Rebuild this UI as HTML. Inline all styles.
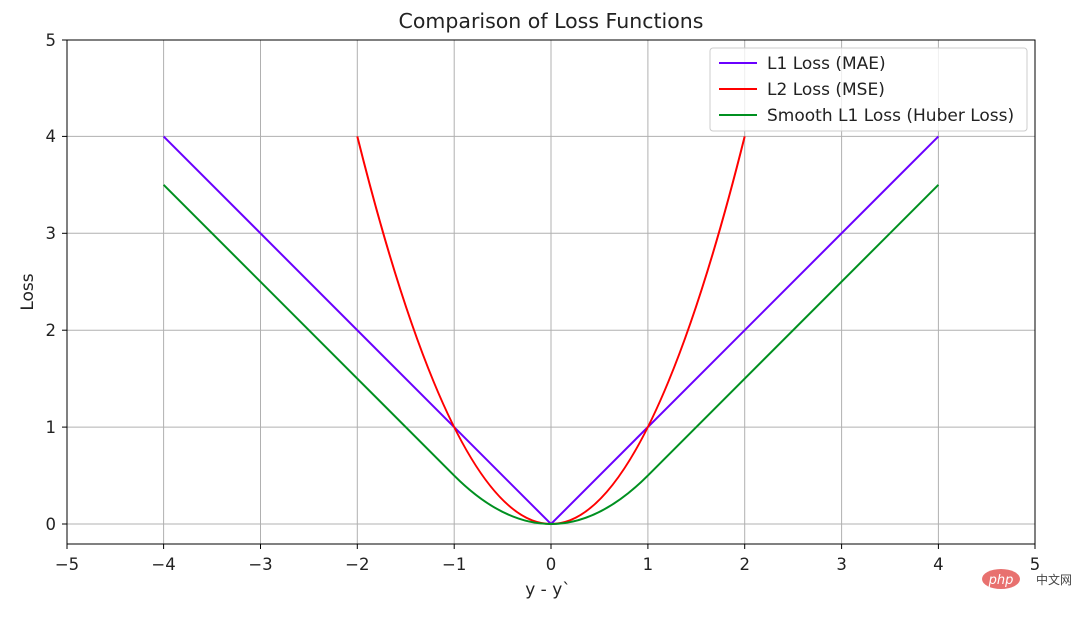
<!DOCTYPE html>
<html><head><meta charset="utf-8"><style>body{margin:0;background:#fff}</style></head><body>
<svg width="1088" height="612" xmlns="http://www.w3.org/2000/svg" font-family="DejaVu Sans, Liberation Sans, sans-serif">
<rect width="1088" height="612" fill="#fff"/>
<g stroke="#b0b0b0" stroke-width="1">
<line x1="163.6" y1="40" x2="163.6" y2="544"/><line x1="260.5" y1="40" x2="260.5" y2="544"/><line x1="357.3" y1="40" x2="357.3" y2="544"/><line x1="454.2" y1="40" x2="454.2" y2="544"/><line x1="551" y1="40" x2="551" y2="544"/><line x1="647.9" y1="40" x2="647.9" y2="544"/><line x1="744.7" y1="40" x2="744.7" y2="544"/><line x1="841.6" y1="40" x2="841.6" y2="544"/><line x1="938.4" y1="40" x2="938.4" y2="544"/>
<line x1="67" y1="524" x2="1035" y2="524"/><line x1="67" y1="427.1" x2="1035" y2="427.1"/><line x1="67" y1="330.2" x2="1035" y2="330.2"/><line x1="67" y1="233.3" x2="1035" y2="233.3"/><line x1="67" y1="136.4" x2="1035" y2="136.4"/>
</g>
<g fill="none" stroke-width="2">
<polyline points="163.6,136.4 551,524 938.4,136.4" stroke="#6a00ff"/>
<path d="M357.3,136.4 Q551,911.6 744.7,136.4" stroke="#ff0000"/>
<path d="M163.6,184.8 L454.15,475.55 Q551,572.45 647.85,475.55 L938.4,184.8" stroke="#009020"/>
</g>
<rect x="67" y="40" width="968" height="504" fill="none" stroke="#000" stroke-width="1"/>
<g stroke="#000"><line x1="67" y1="544" x2="67" y2="549"/><line x1="163.6" y1="544" x2="163.6" y2="549"/><line x1="260.5" y1="544" x2="260.5" y2="549"/><line x1="357.3" y1="544" x2="357.3" y2="549"/><line x1="454.2" y1="544" x2="454.2" y2="549"/><line x1="551" y1="544" x2="551" y2="549"/><line x1="647.9" y1="544" x2="647.9" y2="549"/><line x1="744.7" y1="544" x2="744.7" y2="549"/><line x1="841.6" y1="544" x2="841.6" y2="549"/><line x1="938.4" y1="544" x2="938.4" y2="549"/><line x1="1035" y1="544" x2="1035" y2="549"/>
<line x1="62" y1="524" x2="67" y2="524"/><line x1="62" y1="427.1" x2="67" y2="427.1"/><line x1="62" y1="330.2" x2="67" y2="330.2"/><line x1="62" y1="233.3" x2="67" y2="233.3"/><line x1="62" y1="136.4" x2="67" y2="136.4"/><line x1="62" y1="40" x2="67" y2="40"/></g>
<g font-size="16.5" fill="#222" text-anchor="middle">
<text x="67" y="570">−5</text><text x="163.6" y="570">−4</text><text x="260.5" y="570">−3</text><text x="357.3" y="570">−2</text><text x="454.2" y="570">−1</text><text x="551" y="570">0</text><text x="647.9" y="570">1</text><text x="744.7" y="570">2</text><text x="841.6" y="570">3</text><text x="938.4" y="570">4</text><text x="1035" y="570">5</text>
</g>
<g font-size="16.5" fill="#222" text-anchor="end">
<text x="56" y="530">0</text><text x="56" y="433">1</text><text x="56" y="336">2</text><text x="56" y="239">3</text><text x="56" y="142">4</text><text x="56" y="46">5</text>
</g>
<text x="548" y="595" font-size="17" text-anchor="middle" fill="#222">y - y`</text>
<text x="33" y="292" font-size="17" text-anchor="middle" fill="#222" transform="rotate(-90 33 292)">Loss</text>
<text x="551" y="28" font-size="20.5" text-anchor="middle" fill="#222">Comparison of Loss Functions</text>
<rect x="710" y="48" width="317" height="83" rx="3" fill="#fff" fill-opacity="0.8" stroke="#ccc"/>
<g stroke-width="2"><line x1="719" y1="63" x2="757" y2="63" stroke="#6a00ff"/><line x1="719" y1="89" x2="757" y2="89" stroke="#ff0000"/><line x1="719" y1="115" x2="757" y2="115" stroke="#009020"/></g>
<g font-size="17" fill="#222"><text x="767" y="69">L1 Loss (MAE)</text><text x="767" y="95">L2 Loss (MSE)</text><text x="767" y="121">Smooth L1 Loss (Huber Loss)</text></g>
<ellipse cx="1001" cy="579" rx="19" ry="10" fill="#e8716f"/>
<text x="1001" y="584" font-size="13" font-style="italic" fill="#fff" text-anchor="middle">php</text>
<text x="1036" y="584" font-size="12" fill="#444" font-family="Noto Sans CJK SC, sans-serif">中文网</text>
</svg>
</body></html>
